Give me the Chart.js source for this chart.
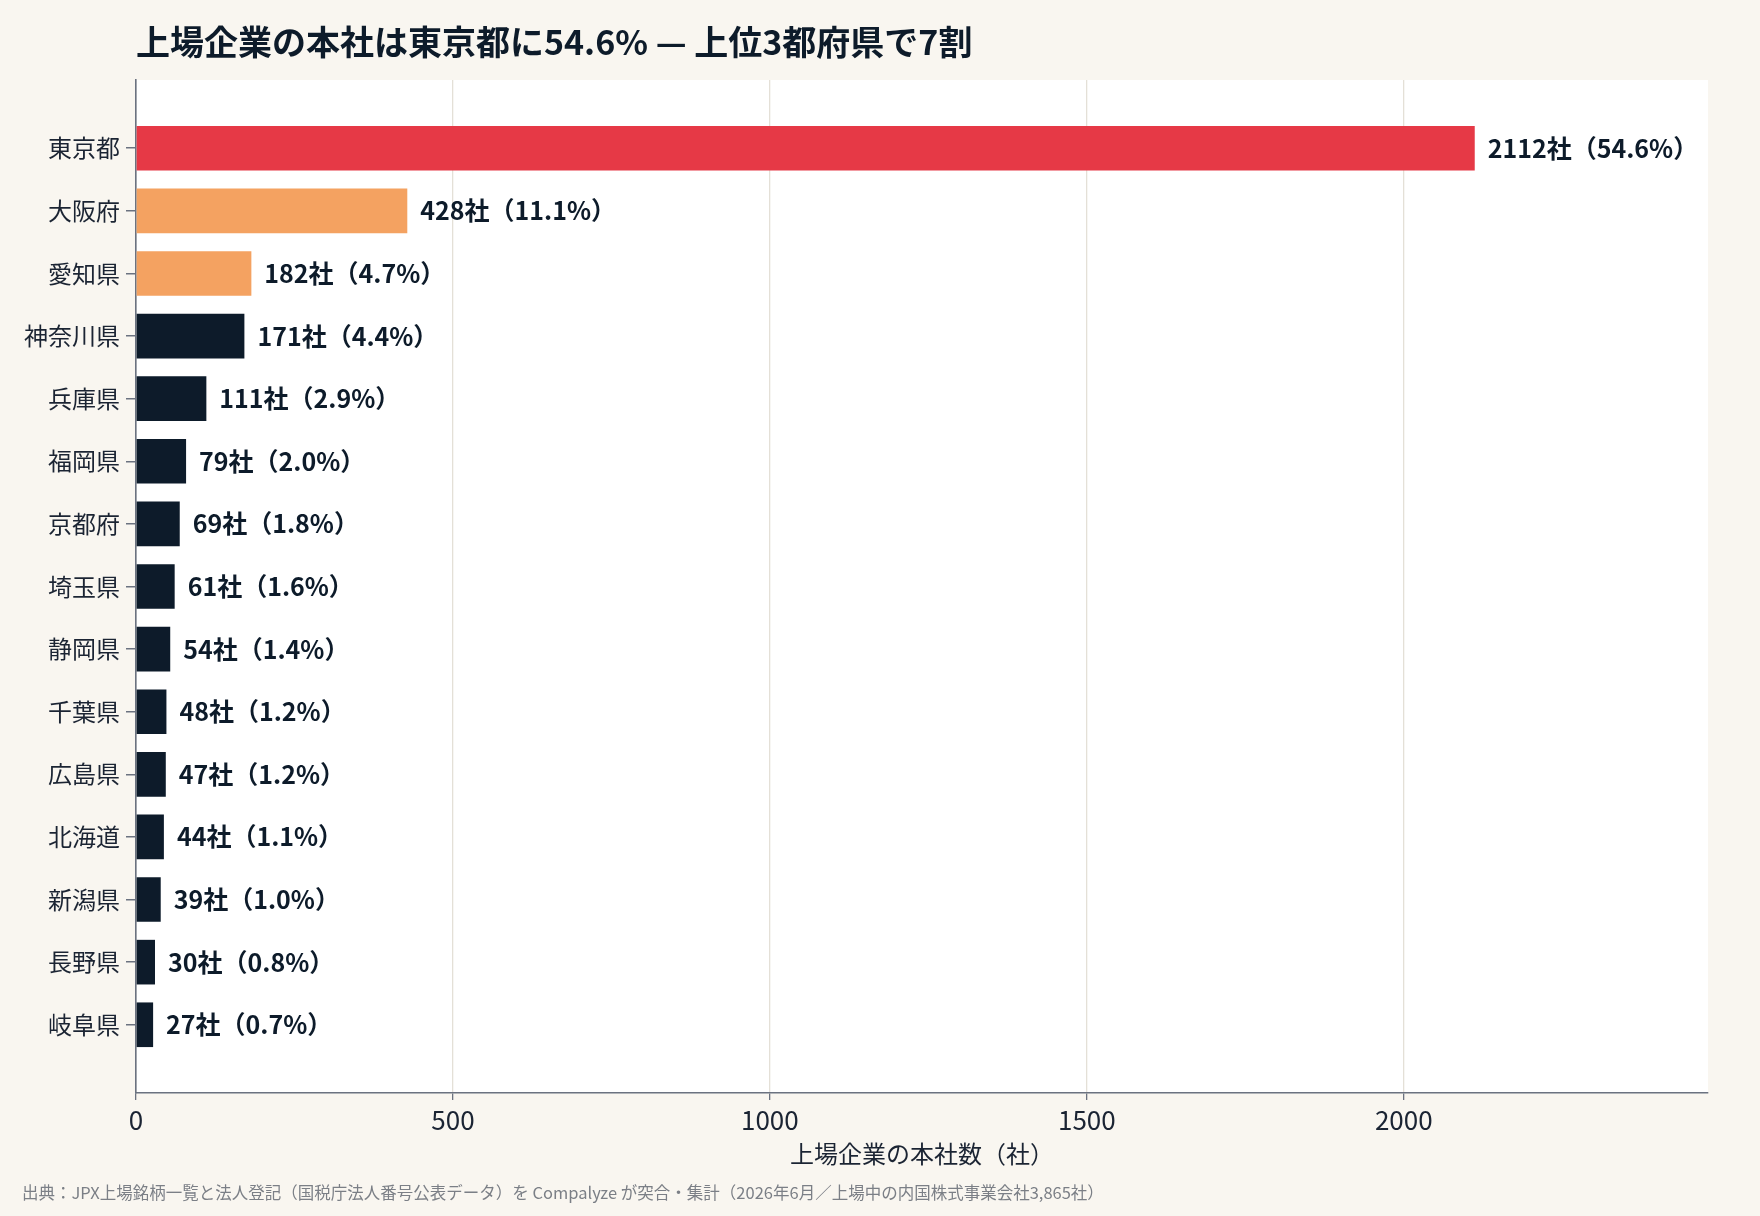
<!DOCTYPE html>
<html lang="ja">
<head>
<meta charset="utf-8">
<title>上場企業の本社所在地</title>
<script src="https://cdn.jsdelivr.net/npm/chart.js@4.4.1/dist/chart.umd.min.js"></script>
<style>
    html, body { margin: 0; padding: 0; background: #f9f6f0; }
    #wrap { width: 1760px; height: 1216px; }
</style>
</head>
<body>
<div id="wrap"><canvas id="hqChart" width="1760" height="1216"></canvas></div>
<script>
// --- data ---
const prefectures = ['東京都', '大阪府', '愛知県', '神奈川県', '兵庫県', '福岡県', '京都府', '埼玉県',
    '静岡県', '千葉県', '広島県', '北海道', '新潟県', '長野県', '岐阜県'];
const companyCounts = [2112, 428, 182, 171, 111, 79, 69, 61, 54, 48, 47, 44, 39, 30, 27];
const sharePct = ['54.6', '11.1', '4.7', '4.4', '2.9', '2.0', '1.8', '1.6', '1.4', '1.2', '1.2', '1.1', '1.0', '0.8', '0.7'];
const xTickValues = [0, 500, 1000, 1500, 2000];
const xMax = 2480;

const titleText = '上場企業の本社は東京都に54.6% — 上位3都府県で7割';
const xTitleText = '上場企業の本社数（社）';
const sourceText = '出典：JPX上場銘柄一覧と法人登記（国税庁法人番号公表データ）を Compalyze が突合・集計（2026年6月／上場中の内国株式事業会社3,865社）';

// --- styles ---
const FONT = "'Noto Sans CJK JP', 'Noto Sans', sans-serif";
const NAVY = '#0d1b2a';
const RED = '#e63946';
const ORANGE = '#f4a261';
const TEXT = '#1b2433';
const AXIS = '#6b7280';

const barColor = (i) => i === 0 ? RED : (i < 3 ? ORANGE : NAVY);

const backdrop = {
    id: 'backdrop',
    beforeDraw(chart) {
        const { ctx, chartArea: a } = chart;
        ctx.save();
        ctx.fillStyle = '#f9f6f0';
        ctx.fillRect(0, 0, chart.width, chart.height);
        ctx.fillStyle = '#ffffff';
        ctx.fillRect(a.left, a.top, a.right - a.left, a.bottom - a.top);
        ctx.restore();
    }
};

const barLabels = {
    id: 'barLabels',
    afterDatasetsDraw(chart) {
        const { ctx } = chart;
        const meta = chart.getDatasetMeta(0);
        ctx.save();
        ctx.font = `bold 25px ${FONT}`;
        ctx.fillStyle = NAVY;
        ctx.textAlign = 'left';
        ctx.textBaseline = 'middle';
        meta.data.forEach((bar, i) => {
            ctx.fillText(`${companyCounts[i]}社（${sharePct[i]}%）`, bar.x + 13, bar.y);
        });
        ctx.restore();
    }
};

const headerFooter = {
    id: 'headerFooter',
    afterDraw(chart) {
        const { ctx, chartArea: a } = chart;
        ctx.save();
        ctx.textAlign = 'left';
        ctx.textBaseline = 'middle';
        ctx.fillStyle = NAVY;
        ctx.font = `bold 34px ${FONT}`;
        ctx.fillText(titleText, a.left, 42);
        ctx.fillStyle = '#7b7f86';
        ctx.font = `16.5px ${FONT}`;
        ctx.fillText(sourceText, 22, 1193);
        ctx.restore();
    }
};

new Chart(document.getElementById('hqChart'), {
    type: 'bar',
    data: {
        datasets: [{
            data: companyCounts.map((v, i) => ({ x: v, y: i })),
            backgroundColor: companyCounts.map((v, i) => barColor(i)),
            borderWidth: 0,
            categoryPercentage: 0.713,
            barPercentage: 1
        }]
    },
    options: {
        indexAxis: 'y',
        responsive: false,
        animation: false,
        layout: { padding: { top: 80, right: 52, bottom: 0, left: 0 } },
        plugins: { legend: { display: false }, tooltip: { enabled: false }, title: { display: false } },
        scales: {
            x: {
                type: 'linear',
                min: 0,
                max: xMax,
                afterBuildTicks: (s) => { s.ticks = xTickValues.map(v => ({ value: v })); },
                afterFit: (s) => { s.height = 123; },
                grid: { color: '#e4e0d7', lineWidth: 1.3, tickColor: AXIS, tickLength: 7 },
                border: { color: AXIS, width: 1.6 },
                ticks: { color: TEXT, font: { family: FONT, size: 26 }, padding: 5, callback: (v) => String(v) },
                title: {
                    display: true, text: xTitleText, color: TEXT,
                    font: { family: FONT, size: 24 }, padding: { top: 0, bottom: 48 }
                }
            },
            y: {
                type: 'linear',
                reverse: true,
                offset: false,
                min: -1.09,
                max: 15.09,
                afterBuildTicks: (s) => { s.ticks = prefectures.map((p, i) => ({ value: i })); },
                afterFit: (s) => { s.width = 136; },
                grid: { offset: false, drawOnChartArea: false, tickColor: AXIS, tickLength: 10, lineWidth: 1.5 },
                border: { color: AXIS, width: 1.6 },
                ticks: {
                    autoSkip: false,
                    color: TEXT,
                    font: { family: FONT, size: 24 },
                    padding: 6,
                    callback: (v) => prefectures[v]
                }
            }
        }
    },
    plugins: [backdrop, barLabels, headerFooter]
});
</script>
</body>
</html>
